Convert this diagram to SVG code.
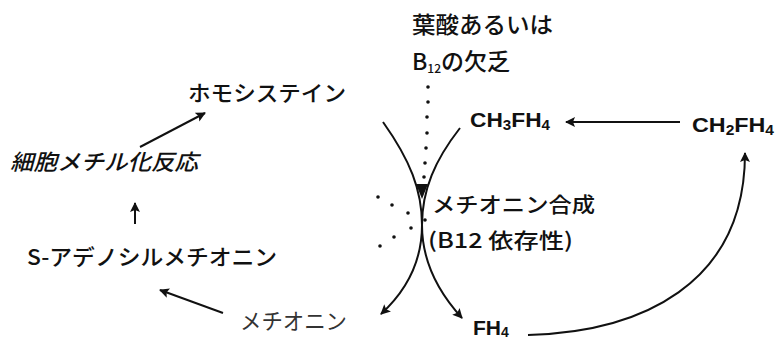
<svg xmlns="http://www.w3.org/2000/svg" width="775" height="340" viewBox="0 0 775 340">
<style>
.jp{font-family:"Noto Sans CJK JP","Liberation Sans",sans-serif;fill:#111;font-weight:500;}
.chem{font-family:"Liberation Sans",Arial,sans-serif;font-weight:bold;fill:#111;}
.ln{fill:none;stroke:#111;stroke-width:2;}
.dot{fill:#111;}
</style>
<defs>
<marker id="ahb" viewBox="0 0 10 10" refX="9" refY="5" markerWidth="11" markerHeight="10" markerUnits="userSpaceOnUse" orient="auto">
<path d="M0,0 L10,5 L0,10 L2,5 Z" fill="#111"/>
</marker>
</defs>
<rect width="775" height="340" fill="#fff"/>

<g id="deficiency">
<text class="jp" x="412" y="33" font-size="23" textLength="141" lengthAdjust="spacingAndGlyphs">葉酸あるいは</text>
<text class="jp" x="412" y="70" font-size="23">B<tspan font-size="12" dy="3">12</tspan><tspan dy="-3">の欠乏</tspan></text>
</g>
<g id="homocysteine"><text class="jp" x="188" y="101" font-size="22" textLength="158" lengthAdjust="spacingAndGlyphs">ホモシステイン</text></g>
<g id="methylation"><text class="jp" x="10" y="170" font-size="22" font-style="italic" textLength="188" lengthAdjust="spacingAndGlyphs">細胞メチル化反応</text></g>
<g id="sam"><text class="jp" x="27" y="265" font-size="22" textLength="250" lengthAdjust="spacingAndGlyphs">S-アデノシルメチオニン</text></g>
<g id="methionine"><text class="jp" x="240" y="329" font-size="22" textLength="107" lengthAdjust="spacingAndGlyphs" style="fill:#333;font-weight:400">メチオニン</text></g>
<g id="synthase">
<text class="jp" x="432" y="212" font-size="21" textLength="163" lengthAdjust="spacingAndGlyphs">メチオニン合成</text>
<text class="jp" x="428" y="248" font-size="21" textLength="145" lengthAdjust="spacingAndGlyphs">(B12 依存性)</text>
</g>
<g id="ch3fh4"><text class="chem" x="470" y="127" font-size="21" textLength="80" lengthAdjust="spacingAndGlyphs">CH<tspan font-size="14" dy="3">3</tspan><tspan dy="-3">FH</tspan><tspan font-size="14" dy="3">4</tspan></text></g>
<g id="ch2fh4"><text class="chem" x="692" y="132" font-size="21" textLength="82" lengthAdjust="spacingAndGlyphs">CH<tspan font-size="14" dy="3">2</tspan><tspan dy="-3">FH</tspan><tspan font-size="14" dy="3">4</tspan></text></g>
<g id="fh4"><text class="chem" x="473" y="335" font-size="21">FH<tspan font-size="14" dy="2">4</tspan></text></g>

<g id="connectors">
<line class="ln" x1="140" y1="147" x2="205" y2="113" marker-end="url(#ahb)"/>
<line class="ln" x1="135" y1="224" x2="135" y2="203" marker-end="url(#ahb)"/>
<line class="ln" x1="223" y1="313" x2="160" y2="290" marker-end="url(#ahb)"/>
<line class="ln" x1="680" y1="122" x2="566" y2="122" marker-end="url(#ahb)"/>
<path class="ln" d="M383,122 C410,160 422,190 422,225 C422,262 405,292 381,314" marker-end="url(#ahb)"/>
<path class="ln" d="M460,128 C435,160 422,190 422,225 C422,262 440,294 462,318" marker-end="url(#ahb)"/>
<path class="ln" d="M528,335 C640,332 745,285 745,153" marker-end="url(#ahb)"/>
<g class="dot">
<circle cx="428" cy="87" r="1.8"/>
<circle cx="428" cy="102" r="1.8"/>
<circle cx="427" cy="117" r="1.8"/>
<circle cx="427" cy="133" r="1.8"/>
<circle cx="426" cy="148" r="1.8"/>
<circle cx="425" cy="163" r="1.8"/>
<circle cx="424" cy="177" r="1.8"/>
<path d="M416,184 L428,184 L422,199 Z"/>
<circle cx="378" cy="197" r="1.8"/>
<circle cx="392" cy="205" r="1.8"/>
<circle cx="408" cy="213" r="1.8"/>
<circle cx="411" cy="228" r="1.8"/>
<circle cx="394" cy="237" r="1.8"/>
<circle cx="380" cy="246" r="1.8"/>
<circle cx="425" cy="220" r="1.8"/>
</g>
</g>
</svg>
